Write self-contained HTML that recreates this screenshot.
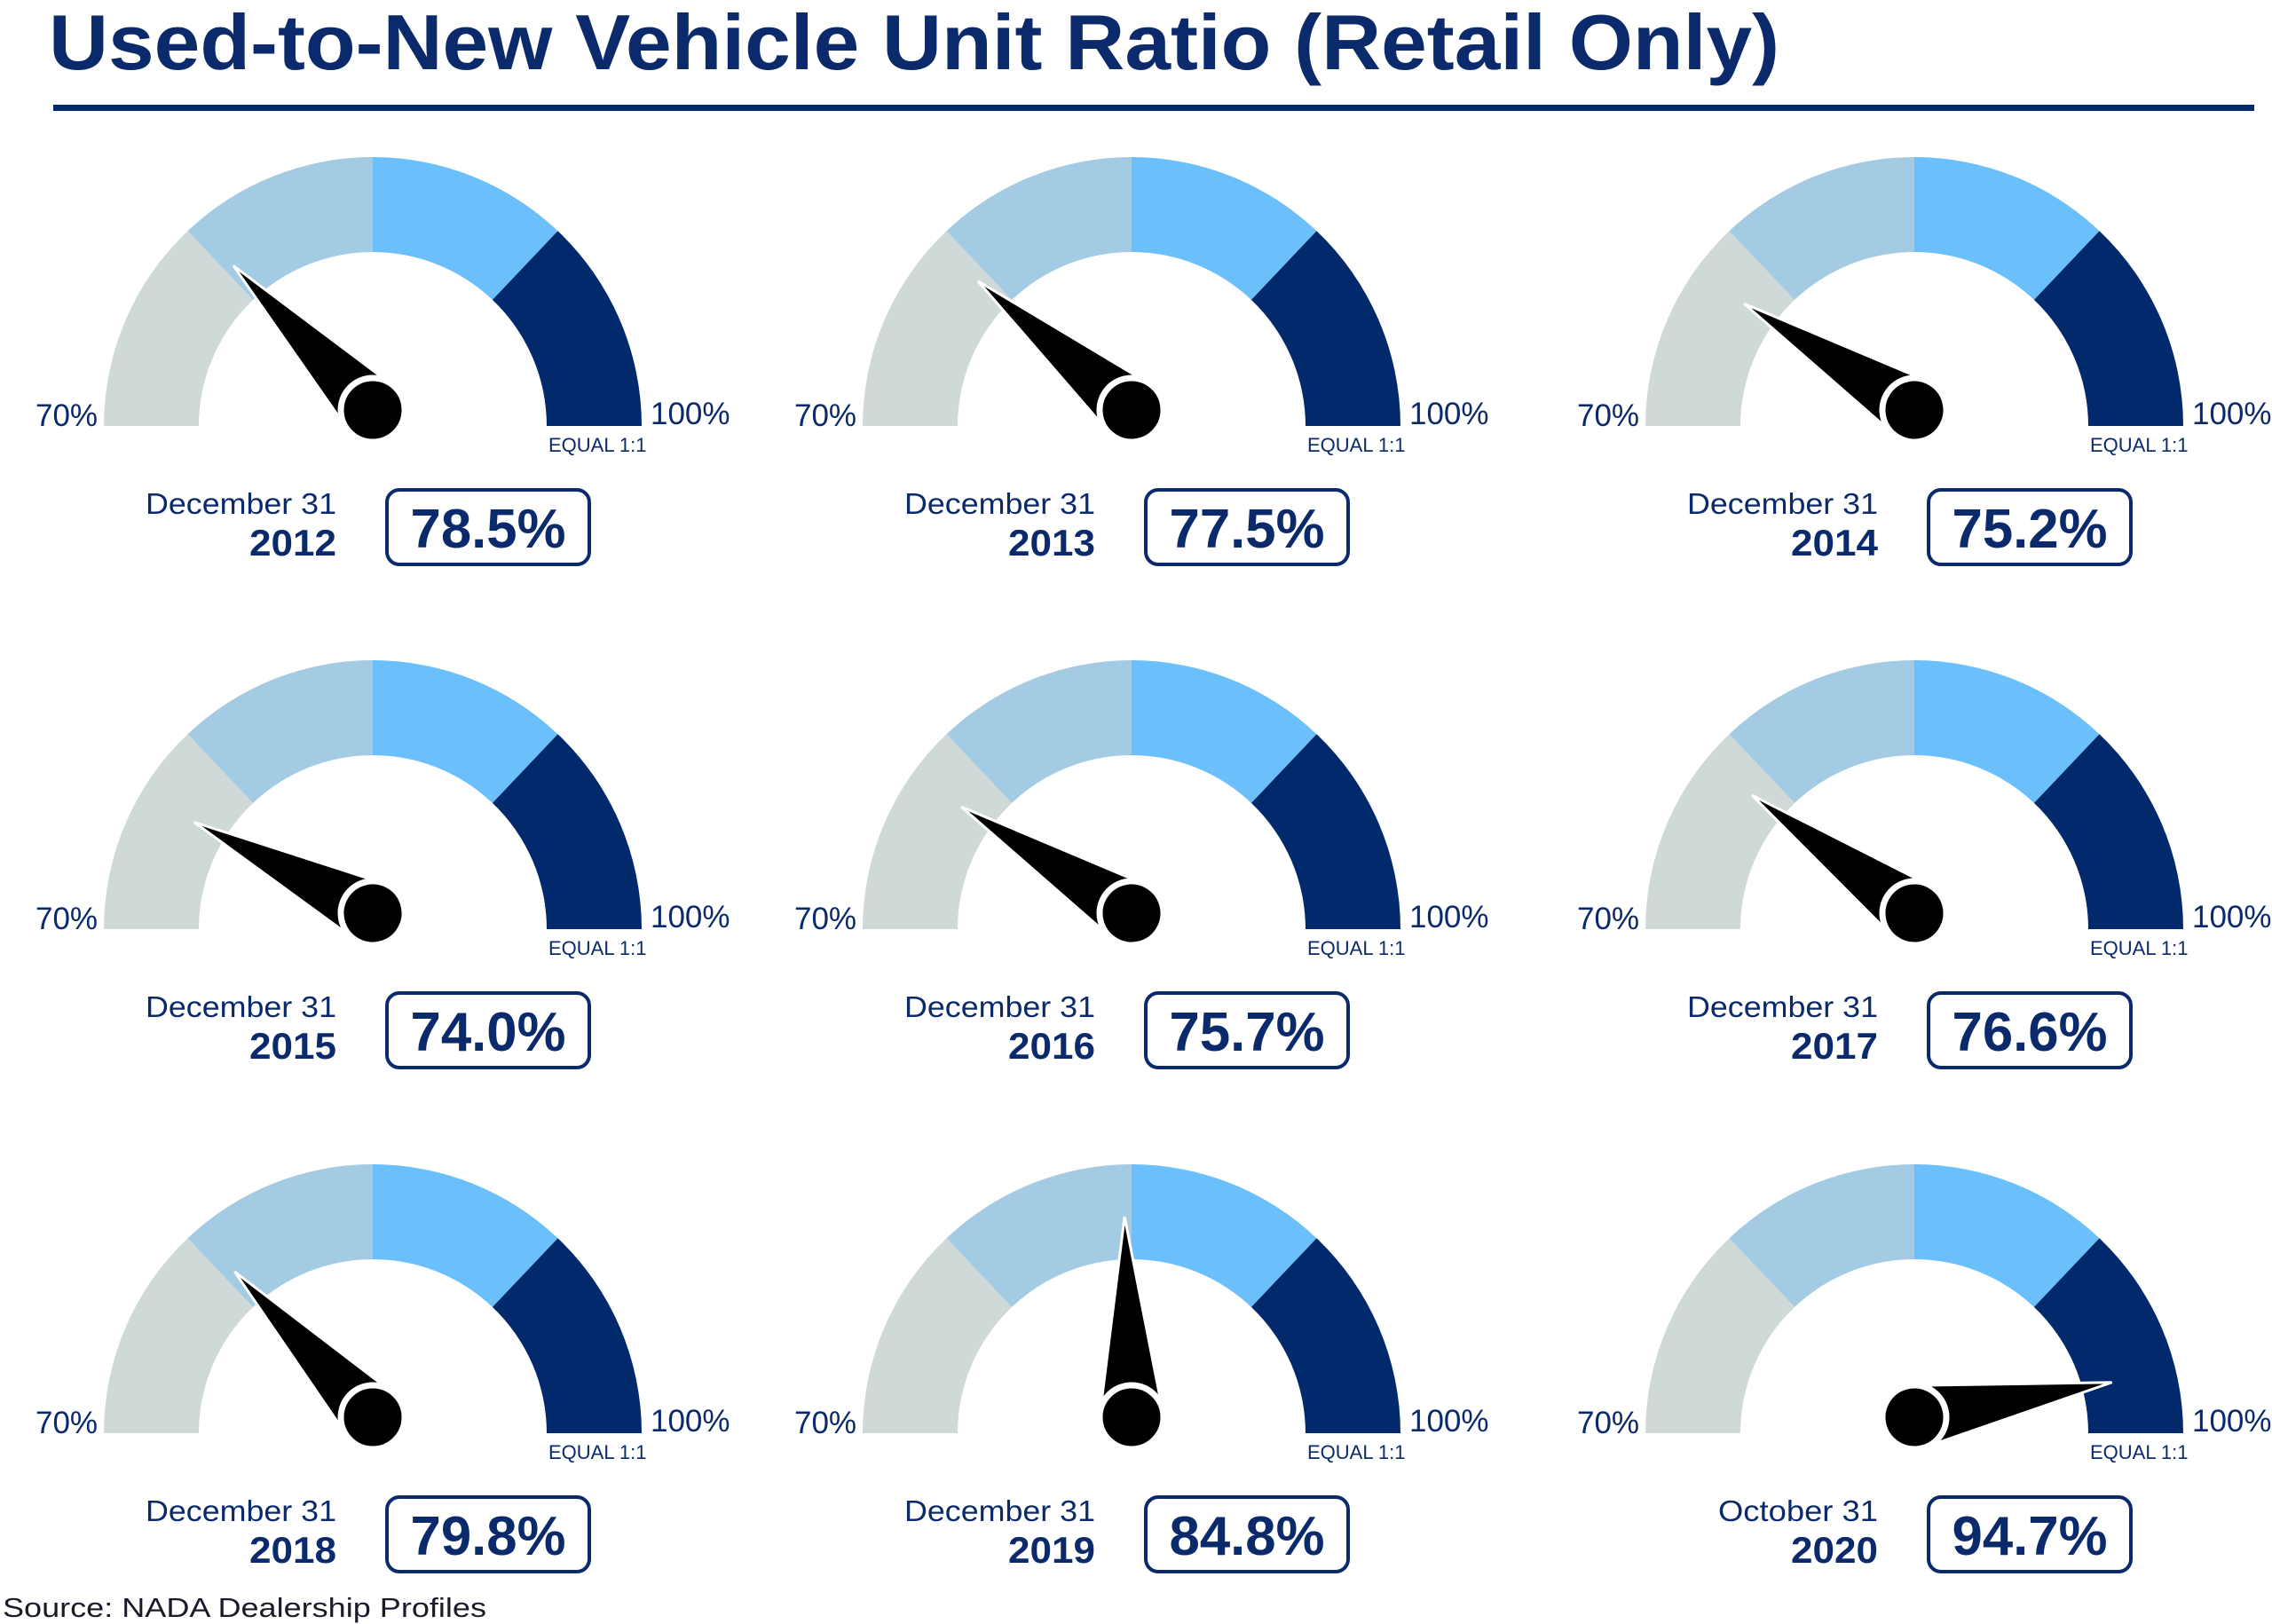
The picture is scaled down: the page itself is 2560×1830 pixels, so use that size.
<!DOCTYPE html>
<html><head><meta charset="utf-8"><style>
html,body{margin:0;padding:0;background:#fff;}
svg{display:block;}
text{font-family:"Liberation Sans",sans-serif;fill:#0b2a6c;}
.b{font-weight:bold;}
</style></head><body>
<svg width="2560" height="1830" viewBox="0 0 2560 1830" xmlns="http://www.w3.org/2000/svg">
<defs>
<g id="arc">
<path d="M-303 0A303 303 0 0 1 -208.5 -219.7L-134.9 -142.1A196 196 0 0 0 -196 0Z" fill="#cfd9d8"/>
<path d="M-208.5 -219.7A303 303 0 0 1 0 -303L0 -196A196 196 0 0 0 -134.9 -142.1Z" fill="#a3cbe4"/>
<path d="M0 -303A303 303 0 0 1 208.5 -219.7L134.9 -142.1A196 196 0 0 0 0 -196Z" fill="#6bbffb"/>
<path d="M208.5 -219.7A303 303 0 0 1 303 0L196 0A196 196 0 0 0 134.9 -142.1Z" fill="#01296b"/>
</g>
<g id="needle">
<polygon points="226,0 20,-33 20,33" fill="#000" stroke="#fff" stroke-width="3"/>
<circle cx="0" cy="0" r="36" fill="#000" stroke="#fff" stroke-width="7"/>
</g>
<g id="lbl">
<text x="-380" y="0" font-size="35">70%</text><text x="313" y="-2" font-size="35">100%</text>
<text x="198" y="29" font-size="22">EQUAL 1:1</text>
<rect x="16" y="72" width="228" height="84" rx="14" fill="none" stroke="#0b2a6c" stroke-width="4"/>
</g>
</defs>
<text x="55" y="78" class="b" font-size="88" textLength="1950" lengthAdjust="spacingAndGlyphs">Used-to-New Vehicle Unit Ratio (Retail Only)</text>
<rect x="60" y="118" width="2480" height="7" fill="#01296b"/>

<g transform="translate(420,480)">
<use href="#arc"/><g transform="translate(0,-18) rotate(-134)"><use href="#needle"/></g><use href="#lbl"/>
<text x="-41" y="99" font-size="33" text-anchor="end" textLength="215" lengthAdjust="spacingAndGlyphs">December 31</text>
<text x="-41" y="146" font-size="42" class="b" text-anchor="end" textLength="98" lengthAdjust="spacingAndGlyphs">2012</text>
<text x="130" y="137" font-size="62" class="b" text-anchor="middle" textLength="175" lengthAdjust="spacingAndGlyphs">78.5%</text>
</g>
<g transform="translate(1275,480)">
<use href="#arc"/><g transform="translate(0,-18) rotate(-140)"><use href="#needle"/></g><use href="#lbl"/>
<text x="-41" y="99" font-size="33" text-anchor="end" textLength="215" lengthAdjust="spacingAndGlyphs">December 31</text>
<text x="-41" y="146" font-size="42" class="b" text-anchor="end" textLength="98" lengthAdjust="spacingAndGlyphs">2013</text>
<text x="130" y="137" font-size="62" class="b" text-anchor="middle" textLength="175" lengthAdjust="spacingAndGlyphs">77.5%</text>
</g>
<g transform="translate(2157,480)">
<use href="#arc"/><g transform="translate(0,-18) rotate(-148)"><use href="#needle"/></g><use href="#lbl"/>
<text x="-41" y="99" font-size="33" text-anchor="end" textLength="215" lengthAdjust="spacingAndGlyphs">December 31</text>
<text x="-41" y="146" font-size="42" class="b" text-anchor="end" textLength="98" lengthAdjust="spacingAndGlyphs">2014</text>
<text x="130" y="137" font-size="62" class="b" text-anchor="middle" textLength="175" lengthAdjust="spacingAndGlyphs">75.2%</text>
</g>

<g transform="translate(420,1047)">
<use href="#arc"/><g transform="translate(0,-18) rotate(-153)"><use href="#needle"/></g><use href="#lbl"/>
<text x="-41" y="99" font-size="33" text-anchor="end" textLength="215" lengthAdjust="spacingAndGlyphs">December 31</text>
<text x="-41" y="146" font-size="42" class="b" text-anchor="end" textLength="98" lengthAdjust="spacingAndGlyphs">2015</text>
<text x="130" y="137" font-size="62" class="b" text-anchor="middle" textLength="175" lengthAdjust="spacingAndGlyphs">74.0%</text>
</g>
<g transform="translate(1275,1047)">
<use href="#arc"/><g transform="translate(0,-18) rotate(-148)"><use href="#needle"/></g><use href="#lbl"/>
<text x="-41" y="99" font-size="33" text-anchor="end" textLength="215" lengthAdjust="spacingAndGlyphs">December 31</text>
<text x="-41" y="146" font-size="42" class="b" text-anchor="end" textLength="98" lengthAdjust="spacingAndGlyphs">2016</text>
<text x="130" y="137" font-size="62" class="b" text-anchor="middle" textLength="175" lengthAdjust="spacingAndGlyphs">75.7%</text>
</g>
<g transform="translate(2157,1047)">
<use href="#arc"/><g transform="translate(0,-18) rotate(-144)"><use href="#needle"/></g><use href="#lbl"/>
<text x="-41" y="99" font-size="33" text-anchor="end" textLength="215" lengthAdjust="spacingAndGlyphs">December 31</text>
<text x="-41" y="146" font-size="42" class="b" text-anchor="end" textLength="98" lengthAdjust="spacingAndGlyphs">2017</text>
<text x="130" y="137" font-size="62" class="b" text-anchor="middle" textLength="175" lengthAdjust="spacingAndGlyphs">76.6%</text>
</g>

<g transform="translate(420,1615)">
<use href="#arc"/><g transform="translate(0,-18) rotate(-133.5)"><use href="#needle"/></g><use href="#lbl"/>
<text x="-41" y="99" font-size="33" text-anchor="end" textLength="215" lengthAdjust="spacingAndGlyphs">December 31</text>
<text x="-41" y="146" font-size="42" class="b" text-anchor="end" textLength="98" lengthAdjust="spacingAndGlyphs">2018</text>
<text x="130" y="137" font-size="62" class="b" text-anchor="middle" textLength="175" lengthAdjust="spacingAndGlyphs">79.8%</text>
</g>
<g transform="translate(1275,1615)">
<use href="#arc"/><g transform="translate(0,-18) rotate(-92)"><use href="#needle"/></g><use href="#lbl"/>
<text x="-41" y="99" font-size="33" text-anchor="end" textLength="215" lengthAdjust="spacingAndGlyphs">December 31</text>
<text x="-41" y="146" font-size="42" class="b" text-anchor="end" textLength="98" lengthAdjust="spacingAndGlyphs">2019</text>
<text x="130" y="137" font-size="62" class="b" text-anchor="middle" textLength="175" lengthAdjust="spacingAndGlyphs">84.8%</text>
</g>
<g transform="translate(2157,1615)">
<use href="#arc"/><g transform="translate(0,-18) rotate(-10)"><use href="#needle"/></g><use href="#lbl"/>
<text x="-41" y="99" font-size="33" text-anchor="end" textLength="180" lengthAdjust="spacingAndGlyphs">October 31</text>
<text x="-41" y="146" font-size="42" class="b" text-anchor="end" textLength="98" lengthAdjust="spacingAndGlyphs">2020</text>
<text x="130" y="137" font-size="62" class="b" text-anchor="middle" textLength="175" lengthAdjust="spacingAndGlyphs">94.7%</text>
</g>

<text x="3" y="1822" font-size="31" style="fill:#1a1a2a" textLength="545" lengthAdjust="spacingAndGlyphs">Source:  NADA Dealership Profiles</text>
</svg>
</body></html>
